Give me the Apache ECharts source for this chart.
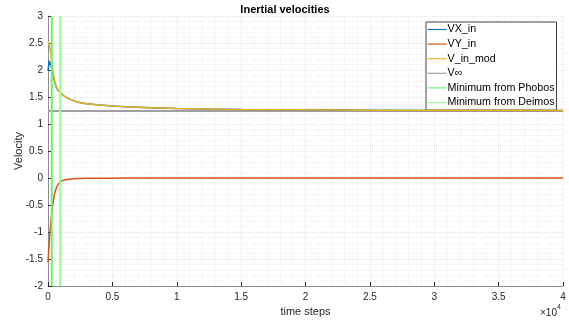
<!DOCTYPE html>
<html>
<head>
<meta charset="utf-8">
<script src="https://cdn.jsdelivr.net/npm/echarts@6/dist/echarts.min.js"></script>
<style>
  html, body { margin: 0; padding: 0; background: #fff; }
  #chart { width: 569px; height: 323px; }
</style>
</head>
<body>
<div id="chart"></div>
<script>
// Time steps at which the velocities are sampled
const steps = [0, 100, 200, 300, 400, 500, 650, 800, 1000, 1300, 1600, 2000, 2500, 3000,
  4000, 5000, 6000, 8000, 10000, 12500, 15000, 20000, 25000, 30000, 35000, 40000];
// Inertial velocity components and modulus
const vxIn = [1.99, 2.17, 2.17, 2.03, 1.90, 1.79, 1.68, 1.62, 1.57, 1.51, 1.47, 1.43, 1.395, 1.375,
  1.35, 1.333, 1.32, 1.30, 1.287, 1.277, 1.27, 1.262, 1.256, 1.252, 1.25, 1.248];
const vyIn = [-1.56, -1.17, -0.88, -0.64, -0.44, -0.30, -0.18, -0.11, -0.06, -0.035, -0.022, -0.014,
  -0.009, -0.006, -0.004, -0.003, -0.002, -0.0015, -0.001, -0.0008, -0.0006, -0.0004, -0.0003,
  -0.0002, -0.0002, -0.0001];
const vInMod = [2.53, 2.465, 2.342, 2.129, 1.95, 1.815, 1.69, 1.624, 1.571, 1.51, 1.47, 1.43, 1.395,
  1.375, 1.35, 1.333, 1.32, 1.30, 1.287, 1.277, 1.27, 1.262, 1.256, 1.252, 1.25, 1.248];
// Hyperbolic excess velocity
const vInf = 1.24;
// Steps of minimum distance from each moon
const phobosStep = 290;
const deimosStep = 950;
// Axis ranges
const xRange = [0, 40000];
const yRange = [-2, 3];

const pairs = (ys) => steps.map((s, i) => [s, ys[i]]);
const txt = '#262626';
const font = 'Liberation Sans, Arial, Helvetica, sans-serif';

const chart = echarts.init(document.getElementById('chart'), null, { renderer: 'canvas' });

const lineSeries = (name, data, color, width, z) => ({
  name, type: 'line', data, symbol: 'none', smooth: false, z,
  lineStyle: { color, width }, itemStyle: { color }, animation: false
});

chart.setOption({
  animation: false,
  title: {
    text: 'Inertial velocities',
    left: 280, top: -1, textAlign: 'center',
    textStyle: { fontFamily: font, fontSize: 11, fontWeight: 'bold', color: '#000' }
  },
  grid: { left: 48, right: 6, top: 16, bottom: 37, containLabel: false, outerBoundsMode: 'none' },
  legend: {
    orient: 'vertical', left: 426, top: 22,
    padding: [2, 2, 2, 1], itemWidth: 19, itemHeight: 10, itemGap: 3.6,
    backgroundColor: '#fff', borderColor: '#444', borderWidth: 1, borderRadius: 0,
    itemStyle: { opacity: 0 },
    lineStyle: { width: 1.2 },
    textStyle: { fontFamily: font, fontSize: 10.7, color: '#000', padding: [0, 0, 0, -4] },
    data: ['VX_in', 'VY_in', 'V_in_mod', 'V\u221e', 'Minimum from Phobos', 'Minimum from Deimos']
  },
  xAxis: {
    type: 'value', min: xRange[0], max: xRange[1], interval: 5000,
    name: 'time steps', nameLocation: 'middle', nameGap: 20, nameMoveOverlap: false,
    nameTextStyle: { fontFamily: font, fontSize: 11, color: txt },
    axisLine: { show: true, onZero: false, lineStyle: { color: '#8c8c8c', width: 1 } },
    axisTick: { show: true, inside: true, length: 4, lineStyle: { color: txt } },
    axisLabel: { fontFamily: font, fontSize: 10, color: txt, margin: 6,
      formatter: (v) => String(v / 10000) },
    splitLine: { show: true, lineStyle: { color: '#e4e4e4', type: 'dotted', width: 1 } },
    minorTick: { show: false, splitNumber: 5 },
    minorSplitLine: { show: true, lineStyle: { color: '#efefef', type: 'dotted', width: 1 } }
  },
  yAxis: {
    type: 'value', min: yRange[0], max: yRange[1], interval: 0.5,
    name: 'Velocity', nameLocation: 'middle', nameGap: 24, nameRotate: 90, nameMoveOverlap: false,
    nameTextStyle: { fontFamily: font, fontSize: 11, color: txt },
    axisLine: { show: true, onZero: false, lineStyle: { color: '#8c8c8c', width: 1 } },
    axisTick: { show: true, inside: true, length: 4, lineStyle: { color: txt } },
    axisLabel: { fontFamily: font, fontSize: 10, color: txt, margin: 5 },
    splitLine: { show: true, lineStyle: { color: '#e4e4e4', type: 'dotted', width: 1 } },
    minorTick: { show: false, splitNumber: 5 },
    minorSplitLine: { show: true, lineStyle: { color: '#efefef', type: 'dotted', width: 1 } }
  },
  graphic: [{
    type: 'text', left: 540, top: 304,
    style: {
      text: '{a|\u00d710}{b|4}', fill: txt, fontFamily: font,
      rich: {
        a: { fontSize: 10, fontFamily: font, fill: txt, verticalAlign: 'bottom', lineHeight: 14 },
        b: { fontSize: 7, fontFamily: font, fill: txt, verticalAlign: 'top', lineHeight: 8, padding: [0, 0, 6, 0] }
      }
    }
  }],
  series: [
    lineSeries('VX_in', pairs(vxIn), '#0072BD', 1.5, 2),
    lineSeries('VY_in', pairs(vyIn), '#D95319', 1.5, 3),
    lineSeries('V_in_mod', pairs(vInMod), '#EDB120', 1.5, 4),
    lineSeries('V\u221e', [[xRange[0], vInf], [xRange[1], vInf]], '#a0a0a0', 2, 1),
    lineSeries('Minimum from Phobos', [[phobosStep, yRange[0]], [phobosStep, yRange[1]]], '#6ef06e', 2, 5),
    lineSeries('Minimum from Deimos', [[deimosStep, yRange[0]], [deimosStep, yRange[1]]], '#96fc96', 2, 5)
  ]
});
</script>
</body>
</html>
